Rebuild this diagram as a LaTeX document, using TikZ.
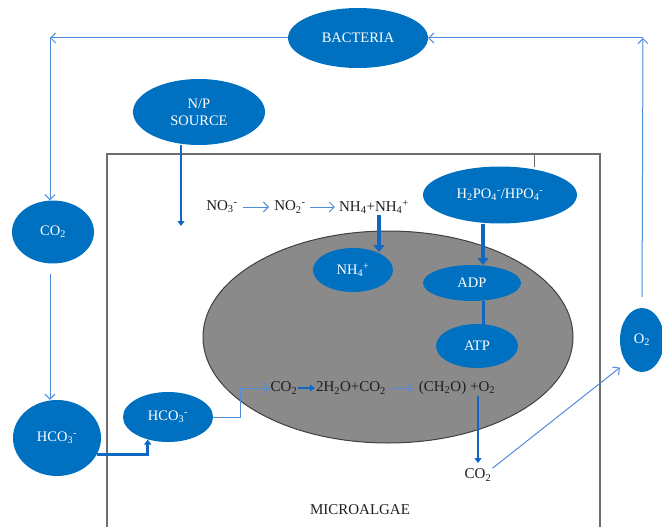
\documentclass[tikz,border=0pt]{standalone}
\usepackage{fontspec}
\setmainfont{Liberation Serif}
\usetikzlibrary{shapes.geometric,arrows.meta}
\definecolor{fillblue}{RGB}{0,112,192}
\definecolor{lineblue}{RGB}{79,140,220}
\definecolor{thickblue}{RGB}{16,104,192}
\definecolor{boxgray}{RGB}{110,110,110}
\definecolor{cellgray}{RGB}{138,138,138}
\definecolor{inkdark}{RGB}{30,30,30}
\begin{document}
\begin{tikzpicture}[x=1pt,y=-1pt,
  blob/.style={ellipse, fill=fillblue, draw=none, text=white, inner sep=0pt, align=center,
    font=\fontsize{14.5}{17}\selectfont},
  txt/.style={text=inkdark, inner sep=1pt, font=\fontsize{15}{17}\selectfont},
  thinarrow/.style={draw=lineblue, line width=1pt, -{Straight Barb[length=5pt,width=10pt]}},
  thickarrow/.style={draw=thickblue, line width=2.6pt, -{Triangle[length=5pt,width=7pt]}},
  bigarrow/.style={draw=thickblue, line width=3.2pt, -{Triangle[length=7pt,width=11pt]}},
  thickline/.style={draw=thickblue, line width=3pt},
]
\useasboundingbox (0,0) rectangle (662,527);

% microalgae box
\draw[boxgray, line width=1.2pt] (107,530) -- (107,154) -- (600,154) -- (600,530);
\draw[boxgray, line width=0.8pt] (534,154) -- (534,167);

% cell
\node[ellipse, fill=cellgray, draw=black!75, line width=1pt, minimum width=370pt, minimum height=212pt] (cell) at (388,337) {};

% outer nodes
\node[blob, minimum width=140pt, minimum height=60pt] (bact) at (358,38) {BACTERIA};
\node[blob, minimum width=132pt, minimum height=66pt] (np) at (199,112) {N/P\\SOURCE};
\node[blob, minimum width=82pt, minimum height=63pt] (co2l) at (53,232) {CO\textsubscript{2}};
\node[blob, minimum width=88pt, minimum height=76pt] (hco3l) at (57,438) {HCO\textsubscript{3}\textsuperscript{-}};
\node[blob, minimum width=90pt, minimum height=50pt] (hco3s) at (168,417) {HCO\textsubscript{3}\textsuperscript{-}};
\node[blob, minimum width=44pt, minimum height=64pt] (o2) at (642,340) {O\textsubscript{2}};
\node[blob, minimum width=154pt, minimum height=57pt] (hpo) at (500,195) {H\textsubscript{2}PO\textsubscript{4}\textsuperscript{-}/HPO\textsubscript{4}\textsuperscript{-}};
\node[blob, minimum width=80pt, minimum height=44pt] (nh4) at (353,270) {NH\textsubscript{4}\textsuperscript{+}};
\node[blob, minimum width=98pt, minimum height=36pt] (adp) at (472,283) {ADP};
\node[blob, minimum width=82pt, minimum height=44pt] (atp) at (477,346) {ATP};

% text row N
\node[txt] (no3) at (222,207) {NO\textsubscript{3}\textsuperscript{-}};
\node[txt] (no2) at (290,207) {NO\textsubscript{2}\textsuperscript{-}};
\node[txt] (nh4row) at (374,207) {NH\textsubscript{4}+NH\textsubscript{4}\textsuperscript{+}};
\draw[thinarrow, shorten <=4pt, shorten >=4pt] (no3) -- (no2);
\draw[thinarrow, shorten <=3pt, shorten >=3pt] (no2) -- (nh4row);

% text row C
\node[txt] (co2a) at (284,388) {CO\textsubscript{2}};
\node[txt] (h2o) at (351,388) {2H\textsubscript{2}O+CO\textsubscript{2}};
\node[txt] (ch2o) at (457,388) {(CH\textsubscript{2}O) +O\textsubscript{2}};
\node[txt] (co2b) at (478,475) {CO\textsubscript{2}};
\node[txt] (micro) at (360,510) {MICROALGAE};
\draw[thickarrow, line width=2.4pt] (co2a) -- (h2o);
\draw[thinarrow, shorten <=2pt, shorten >=5pt] (h2o) -- (ch2o);

% outer cycle
\coordinate (tl) at (50,38);
\coordinate (tr) at (643,38);
\draw[thinarrow] (bact.west) -- (tl);
\draw[thinarrow] (tl) -- (tl |- co2l.north);
\draw[thinarrow, shorten <=10pt] (co2l.south -| tl) -- (tl |- hco3l.north);
\draw[thinarrow, shorten <=11pt] (o2.north) -- (tr);
\draw[thinarrow] (tr) -- (bact.east);

% N/P source
\coordinate (npend) at (181,226);
\draw[thickarrow] (npend |- np.south) -- (npend);

% NH4 and phosphate arrows
\coordinate (nhx) at (379,252);
\draw[bigarrow] (nhx |- nh4row.south) -- (nhx);
\coordinate (adpx) at (483,265);
\draw[bigarrow] (adpx |- hpo.south) -- (adpx);
\coordinate (atpx) at (483,325);
\draw[thickline] (atpx |- adp.south) -- (atpx);

% HCO3 path
\draw[thickarrow, line width=3pt] (hco3l.-22) -| (hco3s.228);
\draw[thinarrow] (hco3s.east) -- ++(27,0) |- (co2a.west);

% CO2 release
\coordinate (co2top) at (478,463);
\draw[thickarrow] (co2top |- ch2o.south) -- (co2top);
\draw[thinarrow, shorten >=8pt] (co2b.25) -- (o2.235);
\end{tikzpicture}
\end{document}
